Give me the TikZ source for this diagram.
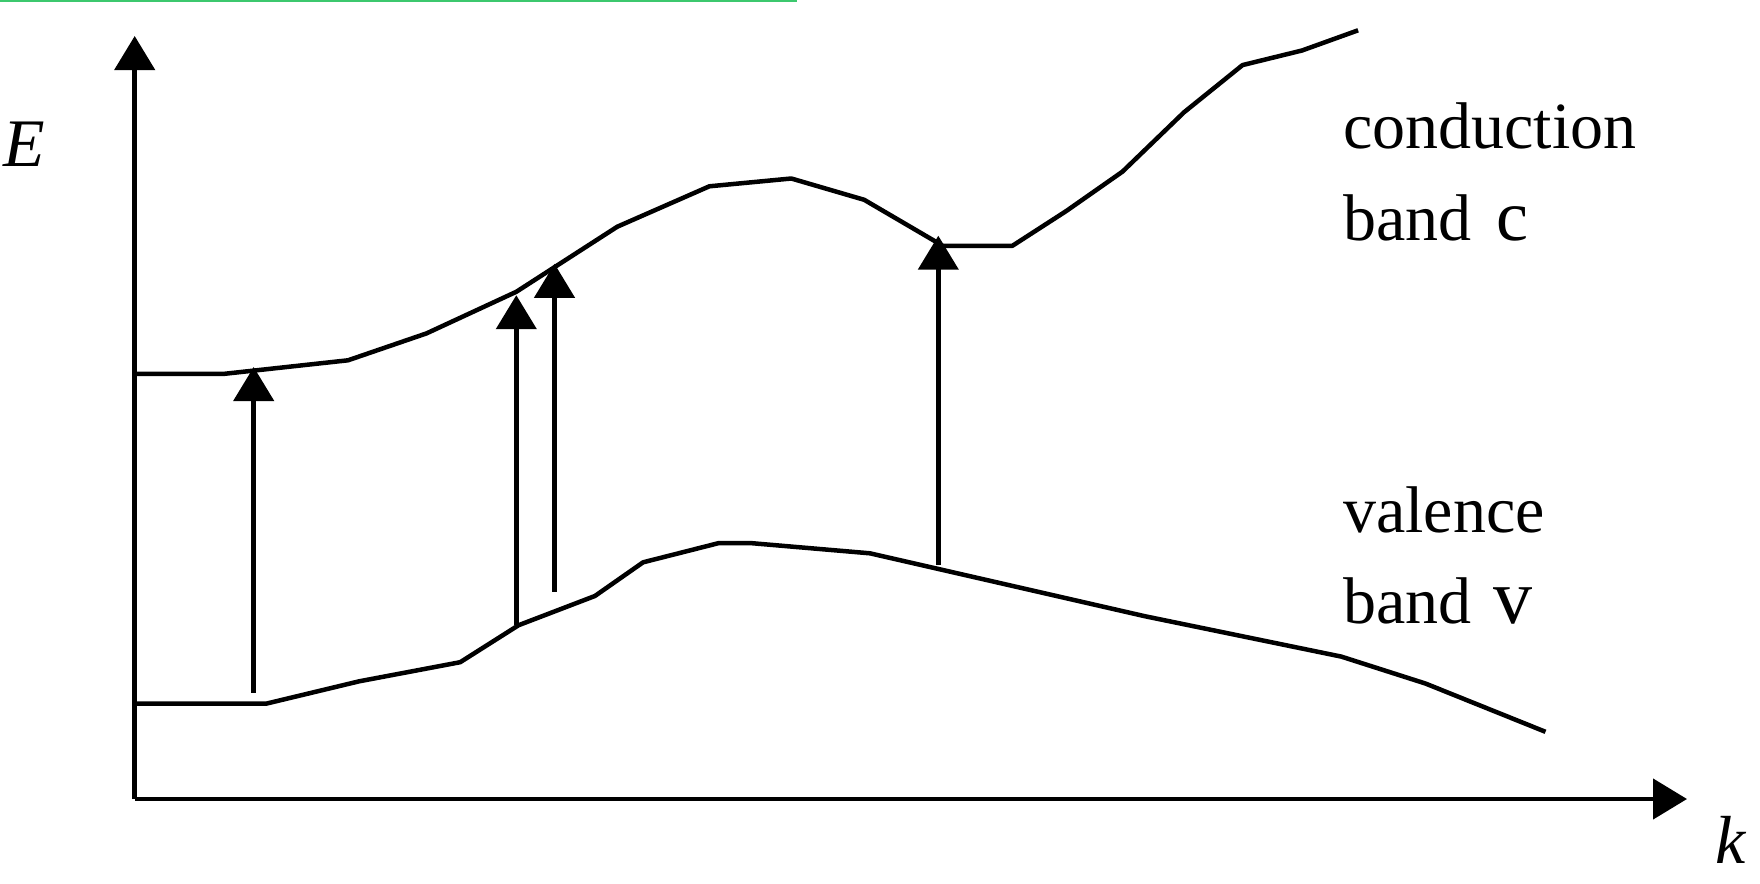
\documentclass[tikz,border=0pt]{standalone}
\usepackage{fontspec}
\setmainfont{Liberation Serif}
\usetikzlibrary{arrows.meta}
\definecolor{topgreen}{RGB}{60,200,110}
\tikzset{
  band/.style={line width=4.5pt, line join=round},
  axisline/.style={line width=4.5pt, -{Triangle[width=40pt,length=34pt]}},
  trans/.style={line width=4.5pt, -{Triangle[width=40pt,length=34pt]}},
  lbl/.style={inner sep=0pt, anchor=base west, font=\fontsize{66}{70}\selectfont},
  axlbl/.style={inner sep=0pt, font=\fontsize{68}{72}\selectfont\itshape}
}
\begin{document}
\begin{tikzpicture}[x=1pt,y=-1pt]
\useasboundingbox (0,0) rectangle (1760,883);
\draw[topgreen, line width=3pt] (0,1) -- (797,1);
% axes
\coordinate (O) at (134.7,799);
\coordinate (ytip) at (134.7,36);
\coordinate (xtip) at (1687,799);
\draw[axisline] (O) -- (ytip);
\draw[axisline] (O) -- (xtip);
\node[axlbl, anchor=base] (E) at (24,166) {E};
\node[axlbl, anchor=base] (k) at (1731,863) {k};
% conduction band
\draw[band] (134.7,373.8) -- (224.5,373.8) -- (348,360.3) -- (426.5,333.4) -- (516.3,291.8) -- (617.3,226.7) -- (709.4,186.3) -- (791.3,178.5) -- (864.2,199.8) -- (942.8,245.8) -- (1012.4,245.8) -- (1066.3,211) -- (1122.4,171.7) -- (1184.1,112.2) -- (1242.5,65.1) -- (1302,50.5) -- (1358.1,30.3);
% valence band
\draw[band] (134.7,703.7) -- (266,703.7) -- (359.2,681.3) -- (460.2,662.2) -- (518.6,625.2) -- (594.9,596) -- (643.1,562.3) -- (718.3,543.2) -- (752,543.2) -- (869.9,553.3) -- (1144.8,616.2) -- (1341.3,656.6) -- (1425.4,683.5) -- (1545.5,731.8);
% transitions
\coordinate (a1) at (253.7,692.5); \coordinate (b1) at (253.7,367);
\coordinate (a2) at (516.3,625.2); \coordinate (b2) at (516.3,295.2);
\coordinate (a3) at (554.5,591.5); \coordinate (b3) at (554.5,263.8);
\coordinate (a4) at (938.3,564.6); \coordinate (b4) at (938.3,235.7);
\draw[trans] (a1) -- (b1);
\draw[trans] (a2) -- (b2);
\draw[trans] (a3) -- (b3);
\draw[trans] (a4) -- (b4);
% labels
\node[lbl] (cond) at (1343,148) {conduction};
\node[lbl] (bandc) at (1343,240) {band\hspace{0.38em}{\fontsize{72}{72}\selectfont c}};
\node[lbl] (val) at (1343,532) {valence};
\node[lbl] (bandv) at (1343,623) {band\hspace{0.33em}{\fontsize{78}{78}\selectfont v}};
\end{tikzpicture}
\end{document}
